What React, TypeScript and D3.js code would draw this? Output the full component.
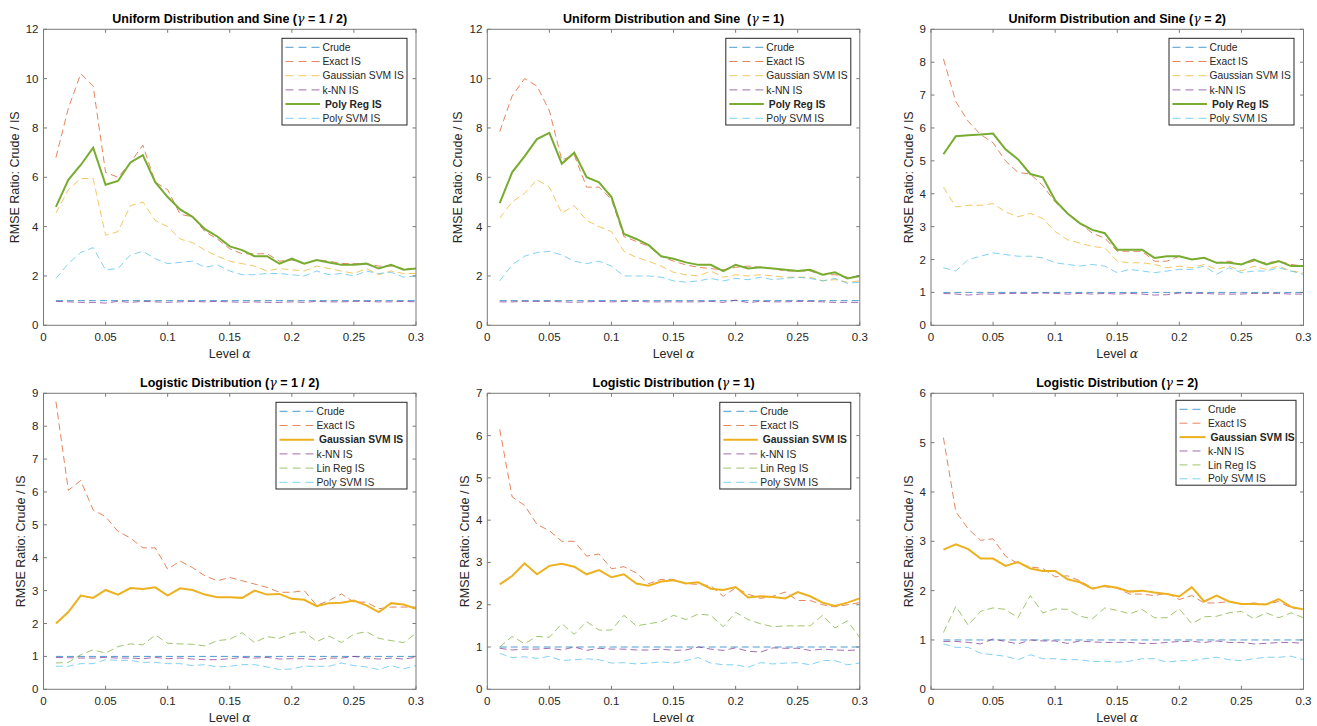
import { useRef, useEffect } from 'react';
import * as d3 from 'd3';

// significance levels on the x axis
const alphaLevels = [
  0.01, 0.02, 0.03, 0.04, 0.05, 0.06, 0.07, 0.08, 0.09, 0.1,
  0.11, 0.12, 0.13, 0.14, 0.15, 0.16, 0.17, 0.18, 0.19, 0.2,
  0.21, 0.22, 0.23, 0.24, 0.25, 0.26, 0.27, 0.28, 0.29, 0.3,
];
const xTicks = [0, 0.05, 0.1, 0.15, 0.2, 0.25, 0.3];

const crude = [1, 1, 1, 1, 1, 1, 1, 1, 1, 1, 1, 1, 1, 1, 1, 1, 1, 1, 1, 1, 1, 1, 1, 1, 1, 1, 1, 1, 1, 1];

// Uniform distribution and sine, gamma = 1/2
const uHalfExact = [6.8, 8.8, 10.2, 9.7, 6.2, 6.0, 6.6, 7.3, 5.8, 5.5, 4.5, 4.4, 3.8, 3.5, 3.1, 2.9, 2.9, 2.9, 2.6, 2.65, 2.5, 2.65, 2.6, 2.5, 2.5, 2.5, 2.4, 2.4, 2.3, 2.3];
const uHalfGauss = [4.55, 5.5, 5.95, 5.95, 3.65, 3.8, 4.85, 5.0, 4.25, 4.0, 3.5, 3.35, 3.05, 2.8, 2.6, 2.5, 2.4, 2.2, 2.3, 2.25, 2.2, 2.4, 2.3, 2.2, 2.1, 2.3, 2.05, 2.2, 2.1, 2.1];
const uHalfKnn = [0.97, 0.95, 0.93, 0.93, 0.9, 0.97, 0.93, 0.97, 0.95, 0.93, 0.95, 0.97, 0.95, 0.97, 0.95, 0.93, 0.95, 0.93, 0.93, 0.95, 0.93, 0.97, 0.95, 0.95, 0.97, 0.97, 0.95, 0.95, 0.97, 0.95];
const uHalfPolyReg = [4.8, 5.9, 6.5, 7.2, 5.7, 5.85, 6.6, 6.9, 5.8, 5.2, 4.7, 4.4, 3.9, 3.6, 3.2, 3.05, 2.8, 2.8, 2.5, 2.7, 2.5, 2.65, 2.55, 2.45, 2.45, 2.5, 2.3, 2.45, 2.25, 2.3];
const uHalfPolySvm = [1.9, 2.5, 2.95, 3.15, 2.25, 2.3, 2.85, 3.0, 2.7, 2.5, 2.55, 2.6, 2.35, 2.45, 2.2, 2.05, 2.05, 2.1, 2.1, 2.05, 2.0, 2.2, 2.05, 2.1, 2.0, 2.2, 2.1, 2.15, 1.95, 2.0];

// Uniform distribution and sine, gamma = 1
const uOneExact = [7.85, 9.3, 10.0, 9.7, 8.7, 6.7, 6.9, 5.6, 5.6, 5.1, 3.6, 3.4, 3.2, 2.8, 2.6, 2.45, 2.35, 2.3, 2.25, 2.35, 2.4, 2.35, 2.3, 2.2, 2.2, 2.2, 2.05, 2.05, 1.95, 2.0];
const uOneGauss = [4.35, 5.0, 5.35, 5.9, 5.6, 4.55, 4.85, 4.25, 4.0, 3.8, 3.0, 2.75, 2.6, 2.4, 2.15, 2.05, 2.0, 2.2, 1.95, 2.05, 2.0, 2.05, 2.0, 1.95, 1.95, 1.95, 1.8, 1.85, 1.75, 1.8];
const uOneKnn = [0.95, 0.95, 0.97, 0.97, 0.97, 0.95, 0.93, 0.95, 0.97, 0.95, 0.97, 0.97, 0.95, 0.95, 0.95, 0.95, 0.95, 0.97, 0.93, 1.02, 0.92, 0.97, 0.95, 0.95, 0.97, 0.97, 0.95, 0.93, 0.93, 0.93];
const uOnePolyReg = [4.95, 6.2, 6.85, 7.55, 7.8, 6.55, 7.0, 6.0, 5.8, 5.2, 3.7, 3.5, 3.25, 2.8, 2.7, 2.55, 2.45, 2.45, 2.2, 2.45, 2.3, 2.35, 2.3, 2.25, 2.2, 2.25, 2.05, 2.15, 1.9, 2.0];
const uOnePolySvm = [1.8, 2.45, 2.8, 2.95, 3.0, 2.85, 2.6, 2.5, 2.6, 2.4, 2.0, 2.0, 2.0, 1.95, 1.8, 1.75, 1.8, 1.9, 1.8, 1.9, 1.85, 1.95, 1.85, 1.9, 1.95, 1.9, 1.8, 1.9, 1.7, 1.75];

// Uniform distribution and sine, gamma = 2
const uTwoExact = [8.1, 6.8, 6.2, 5.8, 5.55, 5.0, 4.65, 4.6, 4.25, 3.75, 3.4, 3.1, 2.8, 2.65, 2.25, 2.25, 2.25, 1.95, 1.95, 2.1, 2.0, 2.05, 1.9, 1.95, 1.85, 1.95, 1.9, 1.95, 1.85, 1.8];
const uTwoGauss = [4.2, 3.6, 3.65, 3.65, 3.7, 3.45, 3.3, 3.4, 3.25, 2.85, 2.6, 2.5, 2.4, 2.35, 1.95, 1.9, 1.9, 1.85, 1.75, 1.8, 1.75, 1.85, 1.7, 1.8, 1.65, 1.8, 1.7, 1.8, 1.65, 1.6];
const uTwoKnn = [0.97, 0.95, 0.92, 0.95, 0.95, 0.97, 0.97, 0.97, 0.98, 0.97, 0.95, 0.97, 0.95, 0.97, 0.95, 0.97, 0.95, 0.92, 0.93, 0.98, 0.97, 0.97, 0.95, 0.95, 0.95, 0.97, 0.97, 0.97, 0.95, 0.95];
const uTwoPolyReg = [5.2, 5.75, 5.78, 5.8, 5.83, 5.35, 5.05, 4.6, 4.5, 3.8, 3.4, 3.1, 2.9, 2.8, 2.3, 2.3, 2.3, 2.05, 2.1, 2.1, 2.0, 2.05, 1.9, 1.9, 1.85, 2.0, 1.85, 1.95, 1.8, 1.8];
const uTwoPolySvm = [1.75, 1.65, 2.0, 2.1, 2.2, 2.15, 2.1, 2.1, 2.05, 1.9, 1.85, 1.8, 1.85, 1.8, 1.6, 1.7, 1.65, 1.6, 1.65, 1.7, 1.7, 1.8, 1.55, 1.75, 1.6, 1.65, 1.65, 1.75, 1.65, 1.55];

// Logistic distribution, gamma = 1/2
const lHalfExact = [8.75, 6.05, 6.35, 5.45, 5.25, 4.8, 4.6, 4.3, 4.3, 3.65, 3.9, 3.7, 3.45, 3.3, 3.4, 3.3, 3.2, 3.1, 2.95, 2.95, 3.0, 2.55, 2.7, 2.9, 2.65, 2.65, 2.45, 2.5, 2.5, 2.5];
const lHalfGauss = [2.0, 2.35, 2.85, 2.78, 3.02, 2.88, 3.08, 3.05, 3.1, 2.85, 3.07, 3.02, 2.88, 2.8, 2.8, 2.78, 3.0, 2.88, 2.9, 2.75, 2.72, 2.53, 2.62, 2.63, 2.7, 2.55, 2.35, 2.62, 2.58, 2.45];
const lHalfKnn = [0.97, 0.96, 0.95, 0.95, 0.97, 0.95, 0.95, 0.93, 0.97, 0.93, 0.95, 0.92, 0.9, 0.9, 0.93, 0.97, 0.95, 0.97, 0.92, 0.93, 0.93, 0.9, 0.95, 0.95, 1.0, 0.95, 0.92, 0.95, 0.92, 0.97];
const lHalfLinReg = [0.8, 0.82, 1.05, 1.2, 1.1, 1.3, 1.38, 1.35, 1.65, 1.4, 1.38, 1.37, 1.32, 1.48, 1.52, 1.72, 1.42, 1.6, 1.55, 1.7, 1.75, 1.45, 1.62, 1.42, 1.68, 1.75, 1.55, 1.48, 1.42, 1.7];
const lHalfPolySvm = [0.7, 0.7, 0.78, 0.78, 0.9, 0.88, 0.88, 0.82, 0.82, 0.78, 0.78, 0.72, 0.75, 0.68, 0.7, 0.75, 0.75, 0.68, 0.6, 0.62, 0.7, 0.7, 0.7, 0.8, 0.72, 0.68, 0.6, 0.72, 0.62, 0.72];

// Logistic distribution, gamma = 1
const lOneExact = [6.15, 4.55, 4.35, 3.9, 3.75, 3.5, 3.5, 3.15, 3.2, 2.85, 2.9, 2.75, 2.5, 2.6, 2.6, 2.5, 2.48, 2.45, 2.2, 2.4, 2.25, 2.15, 2.2, 2.3, 2.1, 2.1, 2.0, 1.95, 2.0, 2.05];
const lOneGauss = [2.48, 2.68, 2.98, 2.72, 2.92, 2.97, 2.9, 2.72, 2.82, 2.65, 2.72, 2.5, 2.45, 2.55, 2.58, 2.5, 2.53, 2.38, 2.35, 2.42, 2.17, 2.2, 2.18, 2.15, 2.3, 2.2, 2.05, 1.97, 2.05, 2.15];
const lOneKnn = [0.97, 0.93, 0.95, 0.95, 0.97, 0.93, 1.0, 0.92, 0.97, 0.95, 0.95, 0.93, 0.93, 0.95, 0.92, 0.93, 1.0, 0.95, 0.92, 0.98, 0.9, 0.88, 0.98, 0.97, 0.97, 0.92, 0.95, 0.93, 0.92, 0.93];
const lOneLinReg = [1.0, 1.25, 1.08, 1.25, 1.23, 1.55, 1.3, 1.6, 1.4, 1.4, 1.75, 1.5, 1.55, 1.6, 1.75, 1.65, 1.78, 1.75, 1.48, 1.82, 1.65, 1.55, 1.48, 1.5, 1.5, 1.5, 1.75, 1.45, 1.62, 1.22];
const lOnePolySvm = [0.85, 0.75, 0.77, 0.73, 0.78, 0.68, 0.7, 0.72, 0.7, 0.62, 0.63, 0.6, 0.62, 0.65, 0.62, 0.68, 0.75, 0.62, 0.58, 0.58, 0.52, 0.63, 0.6, 0.62, 0.63, 0.58, 0.68, 0.68, 0.58, 0.62];

// Logistic distribution, gamma = 2
const lTwoExact = [5.1, 3.6, 3.25, 3.02, 3.05, 2.7, 2.55, 2.48, 2.45, 2.28, 2.3, 2.2, 2.05, 2.08, 2.05, 1.93, 1.93, 1.9, 1.95, 1.82, 1.9, 1.75, 1.75, 1.78, 1.72, 1.75, 1.72, 1.78, 1.65, 1.62];
const lTwoGauss = [2.83, 2.94, 2.84, 2.65, 2.65, 2.5, 2.58, 2.45, 2.4, 2.4, 2.23, 2.17, 2.04, 2.1, 2.06, 1.98, 2.0, 1.96, 1.93, 1.88, 2.07, 1.78, 1.9, 1.78, 1.73, 1.73, 1.72, 1.83, 1.67, 1.62];
const lTwoKnn = [0.97, 0.97, 0.95, 0.92, 1.02, 0.97, 0.92, 1.0, 0.98, 0.98, 0.93, 0.98, 0.96, 0.95, 0.95, 0.95, 0.93, 0.93, 0.95, 0.97, 0.97, 0.95, 0.98, 0.95, 0.95, 0.92, 0.93, 0.95, 0.95, 0.93];
const lTwoLinReg = [1.15, 1.68, 1.3, 1.58, 1.65, 1.62, 1.45, 1.9, 1.55, 1.63, 1.62, 1.48, 1.43, 1.65, 1.6, 1.53, 1.62, 1.45, 1.45, 1.63, 1.33, 1.47, 1.48, 1.55, 1.58, 1.43, 1.55, 1.45, 1.55, 1.45];
const lTwoPolySvm = [0.92, 0.85, 0.85, 0.73, 0.7, 0.67, 0.6, 0.7, 0.62, 0.62, 0.6, 0.6, 0.56, 0.57, 0.55, 0.57, 0.62, 0.62, 0.55, 0.58, 0.58, 0.62, 0.65, 0.6, 0.58, 0.62, 0.65, 0.65, 0.67, 0.6];

const colors = {
  crude: '#0072BD',
  exact: '#D95319',
  gauss: '#EDB120',
  knn: '#7E2F8E',
  green: '#77AC30',
  polySvm: '#4DBEEE',
};

type Series = { name: string; values: number[]; color: string; bold?: boolean };
type Panel = {
  title: string;
  yMax: number;
  series: Series[];
  legendWidth: number;
  legendTop: number;
  legendRight: number;
  legendRow: number;
  legendLine: number;
};

const uniformSeries = (exact: number[], gauss: number[], knn: number[], reg: number[], psvm: number[]): Series[] => [
  { name: 'Crude', values: crude, color: colors.crude },
  { name: 'Exact IS', values: exact, color: colors.exact },
  { name: 'Gaussian SVM IS', values: gauss, color: colors.gauss },
  { name: 'k-NN IS', values: knn, color: colors.knn },
  { name: 'Poly Reg IS', values: reg, color: colors.green, bold: true },
  { name: 'Poly SVM IS', values: psvm, color: colors.polySvm },
];

const logisticSeries = (exact: number[], gauss: number[], knn: number[], lin: number[], psvm: number[]): Series[] => [
  { name: 'Crude', values: crude, color: colors.crude },
  { name: 'Exact IS', values: exact, color: colors.exact },
  { name: 'Gaussian SVM IS', values: gauss, color: colors.gauss, bold: true },
  { name: 'k-NN IS', values: knn, color: colors.knn },
  { name: 'Lin Reg IS', values: lin, color: colors.green },
  { name: 'Poly SVM IS', values: psvm, color: colors.polySvm },
];

const panels: Panel[] = [
  { title: 'Uniform Distribution and Sine (γ = 1 / 2)', yMax: 12, series: uniformSeries(uHalfExact, uHalfGauss, uHalfKnn, uHalfPolyReg, uHalfPolySvm), legendWidth: 125, legendTop: 9, legendRight: 9, legendRow: 14.2, legendLine: 34.5 },
  { title: 'Uniform Distribution and Sine  (γ = 1)', yMax: 12, series: uniformSeries(uOneExact, uOneGauss, uOneKnn, uOnePolyReg, uOnePolySvm), legendWidth: 125, legendTop: 9, legendRight: 9, legendRow: 14.2, legendLine: 34.5 },
  { title: 'Uniform Distribution and Sine (γ = 2)', yMax: 9, series: uniformSeries(uTwoExact, uTwoGauss, uTwoKnn, uTwoPolyReg, uTwoPolySvm), legendWidth: 125, legendTop: 9, legendRight: 9.5, legendRow: 14.2, legendLine: 34.5 },
  { title: 'Logistic Distribution (γ = 1 / 2)', yMax: 9, series: logisticSeries(lHalfExact, lHalfGauss, lHalfKnn, lHalfLinReg, lHalfPolySvm), legendWidth: 131, legendTop: 9, legendRight: 9, legendRow: 14.2, legendLine: 34.5 },
  { title: 'Logistic Distribution (γ = 1)', yMax: 7, series: logisticSeries(lOneExact, lOneGauss, lOneKnn, lOneLinReg, lOnePolySvm), legendWidth: 131, legendTop: 9, legendRight: 9, legendRow: 14.2, legendLine: 34.5 },
  { title: 'Logistic Distribution (γ = 2)', yMax: 6, series: logisticSeries(lTwoExact, lTwoGauss, lTwoKnn, lTwoLinReg, lTwoPolySvm), legendWidth: 120, legendTop: 7, legendRight: 7.5, legendRow: 13.9, legendLine: 26 },
];

const FONT = '"Liberation Sans", Arial, Helvetica, sans-serif';
const MATH = '"DejaVu Serif", "Liberation Serif", serif';
const TEXT = '#262626';
const AXIS = '#7a7a7a';
const DASH_OPACITY = 0.7;

const App = () => {
  const svgRef = useRef<SVGSVGElement>(null);
  const width = 1317;
  const height = 726;

  useEffect(() => {
    const svg = d3.select(svgRef.current);
    svg.selectAll('*').remove();

    svg.append('rect').attr('width', width).attr('height', height).attr('fill', 'white');

    const colLeft = [43.5, 487.3, 931];
    const rowTop = [29.3, 393.3];
    const plotW = 372.5;
    const plotH = 296;

    panels.forEach((p, i) => {
      const left = colLeft[i % 3];
      const top = rowTop[Math.floor(i / 3)];
      const g = svg.append('g').attr('transform', `translate(${left}, ${top})`);

      const x = d3.scaleLinear().domain([0, 0.3]).range([0, plotW]);
      const y = d3.scaleLinear().domain([0, p.yMax]).range([plotH, 0]);
      const yTicks = d3.range(0, p.yMax + 1, p.yMax > 9 ? 2 : 1);

      // clip so lines stay inside the axes
      const clipId = `clip-${i}`;
      g.append('clipPath').attr('id', clipId).append('rect').attr('width', plotW).attr('height', plotH);

      const line = d3
        .line<number>()
        .x((_, k) => x(alphaLevels[k]))
        .y((d) => y(d));

      const lines = g.append('g').attr('clip-path', `url(#${clipId})`);
      const ordered = [...p.series.filter((s) => !s.bold), ...p.series.filter((s) => s.bold)];
      ordered.forEach((s) => {
        lines
          .append('path')
          .datum(s.values)
          .attr('fill', 'none')
          .attr('stroke', s.color)
          .attr('stroke-width', s.bold ? 2 : 1)
          .attr('stroke-opacity', s.bold ? 1 : DASH_OPACITY)
          .attr('stroke-dasharray', s.bold ? null : '7,4')
          .attr('d', line);
      });

      // axes box
      g.append('rect')
        .attr('width', plotW)
        .attr('height', plotH)
        .attr('fill', 'none')
        .attr('stroke', AXIS)
        .attr('stroke-width', 1);

      // inward ticks on all four sides
      xTicks.forEach((t) => {
        g.append('line').attr('x1', x(t)).attr('x2', x(t)).attr('y1', plotH).attr('y2', plotH - 3.5).attr('stroke', AXIS);
        g.append('line').attr('x1', x(t)).attr('x2', x(t)).attr('y1', 0).attr('y2', 3.5).attr('stroke', AXIS);
        g.append('text')
          .attr('x', x(t))
          .attr('y', plotH + 16)
          .attr('text-anchor', 'middle')
          .attr('font-family', FONT)
          .attr('font-size', 11.5)
          .attr('fill', TEXT)
          .text(String(t));
      });
      yTicks.forEach((t) => {
        g.append('line').attr('x1', 0).attr('x2', 3.5).attr('y1', y(t)).attr('y2', y(t)).attr('stroke', AXIS);
        g.append('line').attr('x1', plotW).attr('x2', plotW - 3.5).attr('y1', y(t)).attr('y2', y(t)).attr('stroke', AXIS);
        g.append('text')
          .attr('x', -5)
          .attr('y', y(t) + 4)
          .attr('text-anchor', 'end')
          .attr('font-family', FONT)
          .attr('font-size', 11.5)
          .attr('fill', TEXT)
          .text(String(t));
      });

      // title, with the gamma set like TeX
      const [before, after] = p.title.split('γ');
      const title = g
        .append('text')
        .attr('x', plotW / 2)
        .attr('y', -6.5)
        .attr('text-anchor', 'middle')
        .attr('font-family', FONT)
        .attr('font-size', 12.5)
        .attr('font-weight', 'bold')
        .attr('fill', '#000')
        .style('white-space', 'pre');
      title.append('tspan').text(before);
      title.append('tspan').attr('font-family', MATH).attr('font-style', 'italic').attr('font-weight', 'normal').text('γ');
      title.append('tspan').text(after);

      // x label
      const xl = g
        .append('text')
        .attr('x', plotW / 2)
        .attr('y', plotH + 32.5)
        .attr('text-anchor', 'middle')
        .attr('font-family', FONT)
        .attr('font-size', 12.5)
        .attr('fill', TEXT);
      xl.append('tspan').text('Level ');
      xl.append('tspan').attr('font-family', MATH).attr('font-style', 'italic').text('α');

      // y label
      const labelOffset = p.yMax >= 10 ? 25 : 18.5;
      g.append('text')
        .attr('transform', `translate(${-labelOffset}, ${plotH / 2}) rotate(-90)`)
        .attr('text-anchor', 'middle')
        .attr('font-family', FONT)
        .attr('font-size', 12.5)
        .attr('fill', TEXT)
        .text('RMSE Ratio: Crude / IS');

      // legend
      const rowH = p.legendRow;
      const lx = plotW - p.legendRight - p.legendWidth;
      const ly = p.legendTop;
      const lh = rowH * p.series.length + 1.5;
      const lg = g.append('g').attr('transform', `translate(${lx}, ${ly})`);
      lg.append('rect')
        .attr('width', p.legendWidth)
        .attr('height', lh)
        .attr('fill', 'white')
        .attr('stroke', '#262626')
        .attr('stroke-width', 1);
      p.series.forEach((s, k) => {
        const cy = 9 + k * rowH;
        const lineEnd = 3.5 + p.legendLine;
        lg.append('line')
          .attr('x1', 3.5)
          .attr('x2', lineEnd)
          .attr('y1', cy)
          .attr('y2', cy)
          .attr('stroke', s.color)
          .attr('stroke-width', s.bold ? 2 : 1)
          .attr('stroke-opacity', s.bold ? 1 : DASH_OPACITY)
          .attr('stroke-dasharray', s.bold ? null : '8,5');
        lg.append('text')
          .attr('x', lineEnd + (s.bold ? 5 : 2.5))
          .attr('y', cy + 3.7)
          .attr('font-family', FONT)
          .attr('font-size', 10.3)
          .attr('font-weight', s.bold ? 'bold' : 'normal')
          .attr('fill', TEXT)
          .text(s.name);
      });
    });
  }, []);

  return (
    <svg
      ref={svgRef}
      width={width}
      height={height}
      style={{ position: 'absolute', left: 0, top: 0 }}
    />
  );
};

export default App;
